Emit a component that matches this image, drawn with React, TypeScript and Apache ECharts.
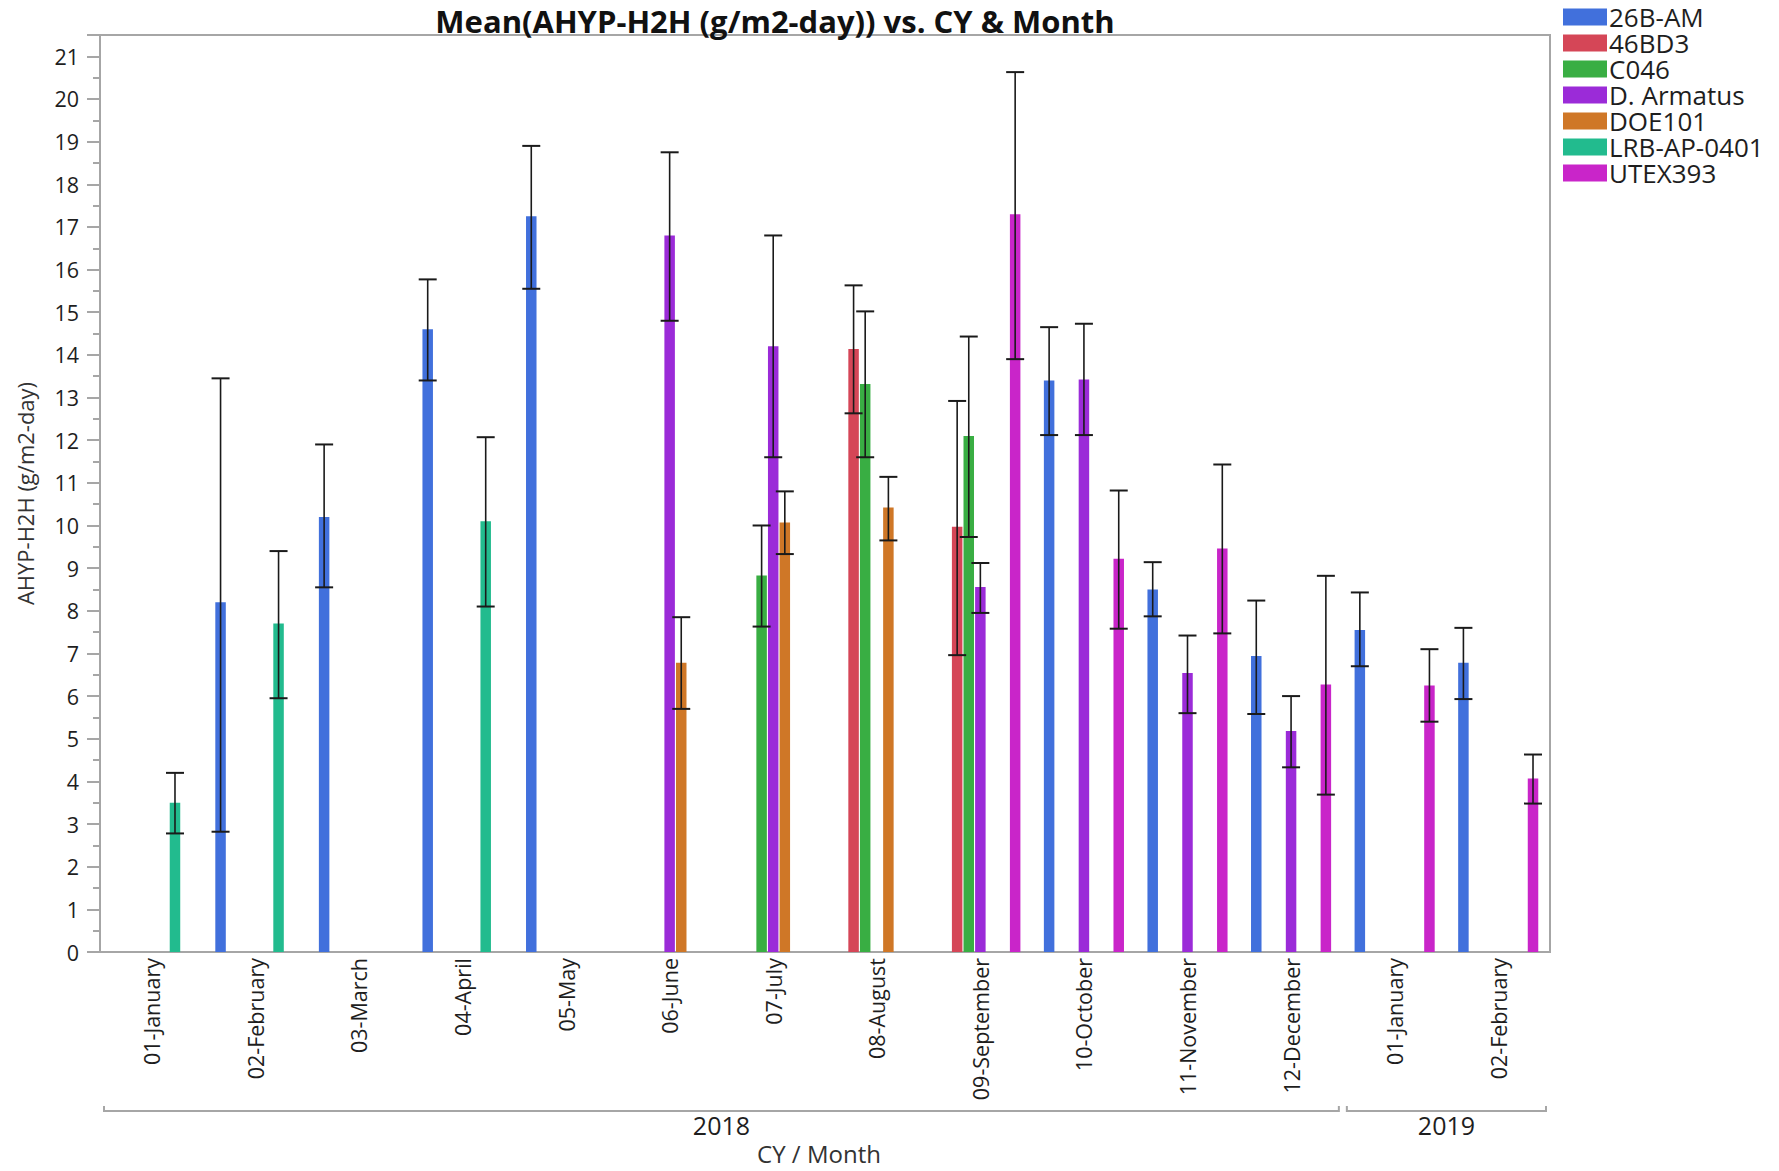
import React, { useEffect, useRef } from "react";
import * as echarts from "echarts";

// ---------- data ----------
const categories = [
  "2018|01-January", "2018|02-February", "2018|03-March", "2018|04-April",
  "2018|05-May", "2018|06-June", "2018|07-July", "2018|08-August",
  "2018|09-September", "2018|10-October", "2018|11-November", "2018|12-December",
  "2019|01-January", "2019|02-February",
];
const years = ["2018", "2019"];
const yearSpans = [[0, 11], [12, 13]];
const yTicks = [0, 21];

const seriesNames = ["26B-AM", "46BD3", "C046", "D. Armatus", "DOE101", "LRB-AP-0401", "UTEX393"];
const seriesColors = ["#4170dc", "#d54657", "#39ae43", "#9b2bd8", "#cf7727", "#22bb8e", "#c925c9"];

const _ = null;
// means
const mean26BAM = [_, 8.2, 10.2, 14.6, 17.25, _, _, _, _, 13.4, 8.5, 6.94, 7.55, 6.78];
const mean46BD3 = [_, _, _, _, _, _, _, 14.14, 9.97, _, _, _, _, _];
const meanC046 = [_, _, _, _, _, _, 8.83, 13.32, 12.1, _, _, _, _, _];
const meanDArmatus = [_, _, _, _, _, 16.8, 14.2, _, 8.56, 13.42, 6.54, 5.18, _, _];
const meanDOE101 = [_, _, _, _, _, 6.78, 10.07, 10.42, _, _, _, _, _, _];
const meanLRB = [3.5, 7.7, _, 10.1, _, _, _, _, _, _, _, _, _, _];
const meanUTEX = [_, _, _, _, _, _, _, _, 17.3, 9.22, 9.46, 6.27, 6.25, 4.07];
// error bar lows
const lo26BAM = [_, 2.82, 8.55, 13.4, 15.55, _, _, _, _, 12.12, 7.87, 5.58, 6.7, 5.93];
const lo46BD3 = [_, _, _, _, _, _, _, 12.63, 6.96, _, _, _, _, _];
const loC046 = [_, _, _, _, _, _, 7.63, 11.6, 9.73, _, _, _, _, _];
const loDArmatus = [_, _, _, _, _, 14.8, 11.6, _, 7.95, 12.12, 5.6, 4.33, _, _];
const loDOE101 = [_, _, _, _, _, 5.7, 9.33, 9.65, _, _, _, _, _, _];
const loLRB = [2.78, 5.95, _, 8.1, _, _, _, _, _, _, _, _, _, _];
const loUTEX = [_, _, _, _, _, _, _, _, 13.9, 7.58, 7.47, 3.69, 5.4, 3.48];
// error bar highs
const hi26BAM = [_, 13.45, 11.9, 15.77, 18.9, _, _, _, _, 14.65, 9.14, 8.24, 8.43, 7.6];
const hi46BD3 = [_, _, _, _, _, _, _, 15.63, 12.92, _, _, _, _, _];
const hiC046 = [_, _, _, _, _, _, 10.0, 15.02, 14.43, _, _, _, _, _];
const hiDArmatus = [_, _, _, _, _, 18.75, 16.8, _, 9.12, 14.73, 7.42, 6.0, _, _];
const hiDOE101 = [_, _, _, _, _, 7.85, 10.8, 11.14, _, _, _, _, _, _];
const hiLRB = [4.2, 9.4, _, 12.07, _, _, _, _, _, _, _, _, _, _];
const hiUTEX = [_, _, _, _, _, _, _, _, 20.63, 10.82, 11.43, 8.82, 7.1, 4.63];

const means = [mean26BAM, mean46BD3, meanC046, meanDArmatus, meanDOE101, meanLRB, meanUTEX];
const lows = [lo26BAM, lo46BD3, loC046, loDArmatus, loDOE101, loLRB, loUTEX];
const highs = [hi26BAM, hi46BD3, hiC046, hiDArmatus, hiDOE101, hiLRB, hiUTEX];

// ---------- layout / style ----------
const W = 1779;
const H = 1171;
const GRID = { left: 100, top: 35, right: 229, bottom: 219 };
const BAR_W = 10.5;
const BAR_GAP = 1.1;
const CAP = 9;
const FONT = "'Open Sans', 'Noto Sans', sans-serif";
const AXIS_GRAY = "#a6a6a6";
const TEXT = "#1e1e1e";

export default function App() {
  const ref = useRef<HTMLDivElement>(null);

  useEffect(() => {
    if (!ref.current) return;
    const chart = echarts.init(ref.current, undefined, { renderer: "svg" });
    const n = seriesNames.length;

    const barSeries = seriesNames.map((name, i) => ({
      name,
      type: "bar",
      data: means[i],
      barWidth: BAR_W,
      barGap: `${(BAR_GAP / BAR_W) * 100}%`,
      itemStyle: { color: seriesColors[i] },
      z: 2,
    }));

    const errData: any[] = [];
    for (let s = 0; s < n; s++) {
      for (let c = 0; c < categories.length; c++) {
        if (lows[s][c] != null && highs[s][c] != null) {
          errData.push([c, s, lows[s][c], highs[s][c]]);
        }
      }
    }

    const errSeries = {
      type: "custom",
      z: 5,
      silent: true,
      encode: { x: 0, y: [2, 3] },
      data: errData,
      renderItem: (params: any, api: any) => {
        const cat = api.value(0);
        const slot = api.value(1);
        const pLo = api.coord([cat, api.value(2)]);
        const pHi = api.coord([cat, api.value(3)]);
        const x = pLo[0] + (slot - (n - 1) / 2) * (BAR_W + BAR_GAP);
        const st = { stroke: "#1a1a1a", lineWidth: 1.6 };
        return {
          type: "group",
          children: [
            { type: "line", shape: { x1: x, y1: pHi[1], x2: x, y2: pLo[1] }, style: st },
            { type: "line", shape: { x1: x - CAP, y1: pHi[1], x2: x + CAP, y2: pHi[1] }, style: { ...st, lineWidth: 2 } },
            { type: "line", shape: { x1: x - CAP, y1: pLo[1], x2: x + CAP, y2: pLo[1] }, style: { ...st, lineWidth: 2 } },
          ],
        };
      },
    };

    const option: any = {
      animation: false,
      backgroundColor: "#ffffff",
      textStyle: { fontFamily: FONT },
      grid: {
        left: GRID.left,
        top: GRID.top,
        right: GRID.right,
        bottom: GRID.bottom,
        show: true,
        borderColor: AXIS_GRAY,
        borderWidth: 2,
        backgroundColor: "transparent",
      },
      legend: {
        orient: "vertical",
        left: 1563,
        top: 4,
        padding: 0,
        data: seriesNames.map((name) => ({ name, icon: "rect" })),
        itemWidth: 44,
        itemHeight: 17,
        itemGap: 0,
        selectedMode: false,
        textStyle: { fontFamily: FONT, fontSize: 26, color: TEXT, lineHeight: 26, padding: [0, 0, 0, -3] },
      },
      xAxis: {
        type: "category",
        data: categories,
        axisLine: { show: true, lineStyle: { color: AXIS_GRAY, width: 2 } },
        axisTick: { show: false },
        splitLine: { show: false },
        axisLabel: {
          interval: 0,
          rotate: 90,
          margin: 6,
          fontFamily: FONT,
          fontSize: 21.5,
          color: TEXT,
          formatter: (v: string) => v.split("|")[1],
        },
      },
      yAxis: {
        type: "value",
        min: 0,
        max: 21.5,
        interval: 1,
        name: "AHYP-H2H (g/m2-day)",
        nameLocation: "middle",
        nameGap: 64,
        nameTextStyle: { fontFamily: FONT, fontSize: 22, color: "#333" },
        axisLine: { show: true, lineStyle: { color: AXIS_GRAY, width: 2 } },
        axisTick: { show: true, length: 13, lineStyle: { color: AXIS_GRAY, width: 2 } },
        minorTick: { show: true, splitNumber: 2, length: 7, lineStyle: { color: AXIS_GRAY, width: 2 } },
        splitLine: { show: false },
        axisLabel: {
          margin: 21,
          fontFamily: FONT,
          fontSize: 21.5,
          color: TEXT,
          showMaxLabel: false,
          formatter: (v: number) =>
            Number.isInteger(v) && v >= yTicks[0] && v <= yTicks[1] ? String(v) : "",
        },
      },
      series: [...barSeries, errSeries],
    };

    chart.setOption(option);

    // year brackets under the month labels, positioned from the category scale
    const c0 = chart.convertToPixel({ xAxisIndex: 0 }, 0) as number;
    const c1 = chart.convertToPixel({ xAxisIndex: 0 }, 1) as number;
    const bw = c1 - c0;
    const axisY = H - GRID.bottom;
    const by = axisY + 159;
    const graphics: any[] = [
      {
        type: "text",
        x: 775,
        y: 21,
        style: {
          text: "Mean(AHYP-H2H (g/m2-day)) vs. CY & Month",
          font: `bold 31px ${FONT}`,
          fill: "#111",
          textAlign: "center",
          textVerticalAlign: "middle",
        },
      },
      {
        type: "text",
        x: 819,
        y: axisY + 201,
        style: {
          text: "CY / Month",
          font: `24px ${FONT}`,
          fill: "#333",
          textAlign: "center",
          textVerticalAlign: "middle",
        },
      },
    ];
    yearSpans.forEach(([a, b], i) => {
      const xa = (chart.convertToPixel({ xAxisIndex: 0 }, a) as number) - bw / 2 + 4;
      const xb = (chart.convertToPixel({ xAxisIndex: 0 }, b) as number) + bw / 2 - 4;
      graphics.push({
        type: "polyline",
        shape: { points: [[xa, by - 5], [xa, by], [xb, by], [xb, by - 5]] },
        style: { stroke: AXIS_GRAY, lineWidth: 2, fill: "none" },
        silent: true,
      });
      graphics.push({
        type: "text",
        x: (xa + xb) / 2,
        y: by + 14,
        style: {
          text: years[i],
          font: `25px ${FONT}`,
          fill: TEXT,
          textAlign: "center",
          textVerticalAlign: "middle",
        },
      });
    });
    chart.setOption({ graphic: graphics });

    return () => chart.dispose();
  }, []);

  return (
    <div
      ref={ref}
      style={{ position: "absolute", left: 0, top: 0, width: W, height: H, background: "#fff" }}
    />
  );
}
